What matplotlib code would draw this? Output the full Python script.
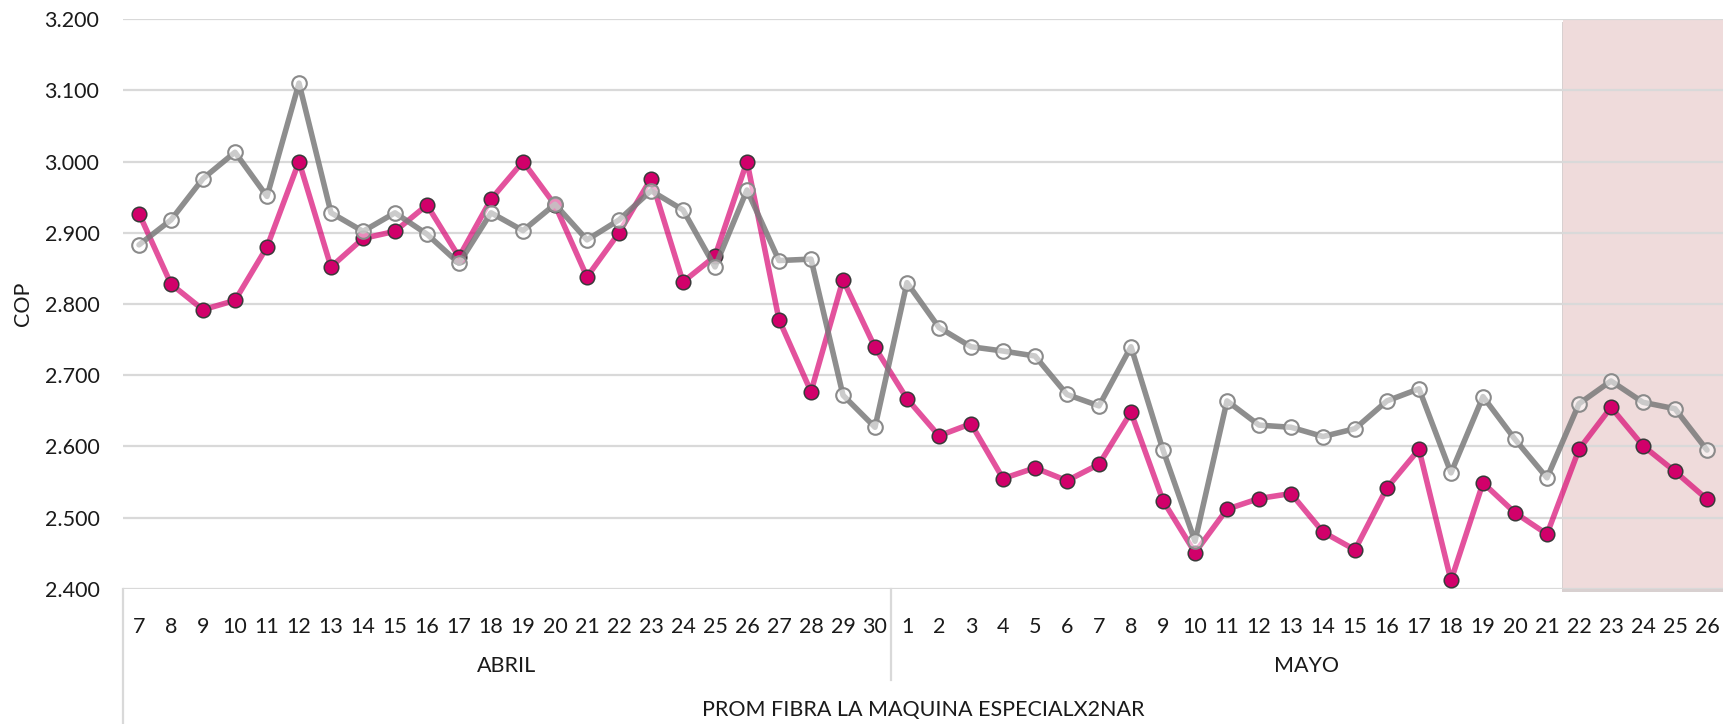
import matplotlib
matplotlib.use("Agg")
import matplotlib.pyplot as plt
from matplotlib.patches import Rectangle

plt.rcParams['font.family'] = ['Lato', 'DejaVu Sans']

# ---- data ----
days_abril = [str(d) for d in range(7, 31)]
days_mayo = [str(d) for d in range(1, 27)]
months = ["ABRIL", "MAYO"]
group_title = "PROM FIBRA LA MAQUINA ESPECIALX2NAR"
y_label = "COP"

cop_pink = [2.927, 2.828, 2.792, 2.805, 2.880, 3.000, 2.852, 2.892, 2.902, 2.939,
            2.866, 2.947, 3.000, 2.939, 2.838, 2.900, 2.976, 2.831, 2.867, 3.000,
            2.778, 2.677, 2.834, 2.739,
            2.667, 2.615, 2.632, 2.555, 2.570, 2.552, 2.575, 2.648, 2.524, 2.451,
            2.512, 2.527, 2.534, 2.480, 2.455, 2.542, 2.596, 2.412, 2.549, 2.507,
            2.477, 2.596, 2.655, 2.601, 2.565, 2.526]

cop_grey = [2.883, 2.918, 2.976, 3.013, 2.951, 3.110, 2.928, 2.902, 2.928, 2.898,
            2.857, 2.928, 2.903, 2.940, 2.890, 2.918, 2.959, 2.932, 2.852, 2.960,
            2.861, 2.863, 2.672, 2.627,
            2.830, 2.767, 2.740, 2.734, 2.727, 2.673, 2.657, 2.740, 2.595, 2.467,
            2.664, 2.630, 2.627, 2.614, 2.625, 2.664, 2.681, 2.563, 2.670, 2.610,
            2.556, 2.660, 2.692, 2.662, 2.653, 2.595]

y_ticks = [2.4, 2.5, 2.6, 2.7, 2.8, 2.9, 3.0, 3.1, 3.2]
highlight_start_label = "22"  # May 22 onwards highlighted

labels = days_abril + days_mayo
x = list(range(len(labels)))
n_abril = len(days_abril)
hl_start = n_abril + days_mayo.index(highlight_start_label)

# ---- figure ----
W, H = 1723, 724
fig = plt.figure(figsize=(W / 100, H / 100), dpi=100)
left_px, right_px, top_px, bot_px = 123, 1723, 19, 589
ax = fig.add_axes([left_px / W, 1 - bot_px / H, (right_px - left_px) / W, (bot_px - top_px) / H])

ax.set_xlim(-0.5, len(labels) - 0.5)
ax.set_ylim(2.4, 3.2)

grid_c = '#D9D9D9'
text_c = '#1a1a1a'

# highlight region with subtle shadow
shadow = Rectangle((hl_start - 0.5 - 0.03, 2.4 - 0.0045), len(labels) - hl_start + 0.1, 0.8,
                   facecolor='#D8D0D0', edgecolor='none', zorder=0.2, clip_on=False)
ax.add_patch(shadow)
ax.axvspan(hl_start - 0.5, len(labels) - 0.5, ymin=0, ymax=1, facecolor='#EFDBDB',
           edgecolor='none', zorder=0.3)

for yv in y_ticks:
    ax.axhline(yv, color=grid_c, lw=1.6, zorder=0.5)

# series
ax.plot(x, cop_pink, color='#D6006F', alpha=0.68, lw=4.0, zorder=2, solid_capstyle='round')
ax.plot(x, cop_pink, ls='none', marker='o', ms=10.5, mfc='#D1006A', mec='#3a3a3a', mew=1.1, zorder=3)
ax.plot(x, cop_grey, color='#7A7A7A', alpha=0.85, lw=4.0, zorder=4, solid_capstyle='round')
ax.plot(x, cop_grey, ls='none', marker='o', ms=10.5, mfc=(1, 1, 1, 0.55), mec='#8A8A8A', mew=1.5, zorder=5)

for s in ax.spines.values():
    s.set_visible(False)

ax.set_yticks(y_ticks)
ax.set_yticklabels([f"{v:.3f}" for v in y_ticks], fontsize=15.5, color=text_c)
ax.tick_params(axis='y', length=0, pad=17)

ax.set_xticks(x)
ax.set_xticklabels(labels, fontsize=15.5, color=text_c)
ax.tick_params(axis='x', length=0, pad=20)

ax.set_ylabel(y_label, fontsize=15.5, color=text_c, labelpad=8)

# multi-level category axis
axes_h = bot_px - top_px
def yfrac(py):
    return -(py - bot_px) / axes_h

tr = ax.get_xaxis_transform()
ax.text((n_abril - 1) / 2, yfrac(666), months[0], transform=tr, ha='center', va='center',
        fontsize=15.5, color=text_c)
ax.text((n_abril + len(labels) - 1) / 2, yfrac(666), months[1], transform=tr, ha='center', va='center',
        fontsize=15.5, color=text_c)
ax.text((len(labels) - 1) / 2, yfrac(710), group_title, transform=tr, ha='center', va='center',
        fontsize=15.5, color=text_c)

ax.plot([-0.5, -0.5], [0, yfrac(H + 5)], transform=tr, color=grid_c, lw=1.6, clip_on=False)
ax.plot([n_abril - 0.5, n_abril - 0.5], [0, yfrac(680)], transform=tr, color=grid_c, lw=1.6, clip_on=False)

fig.savefig("out.png", dpi=100)
